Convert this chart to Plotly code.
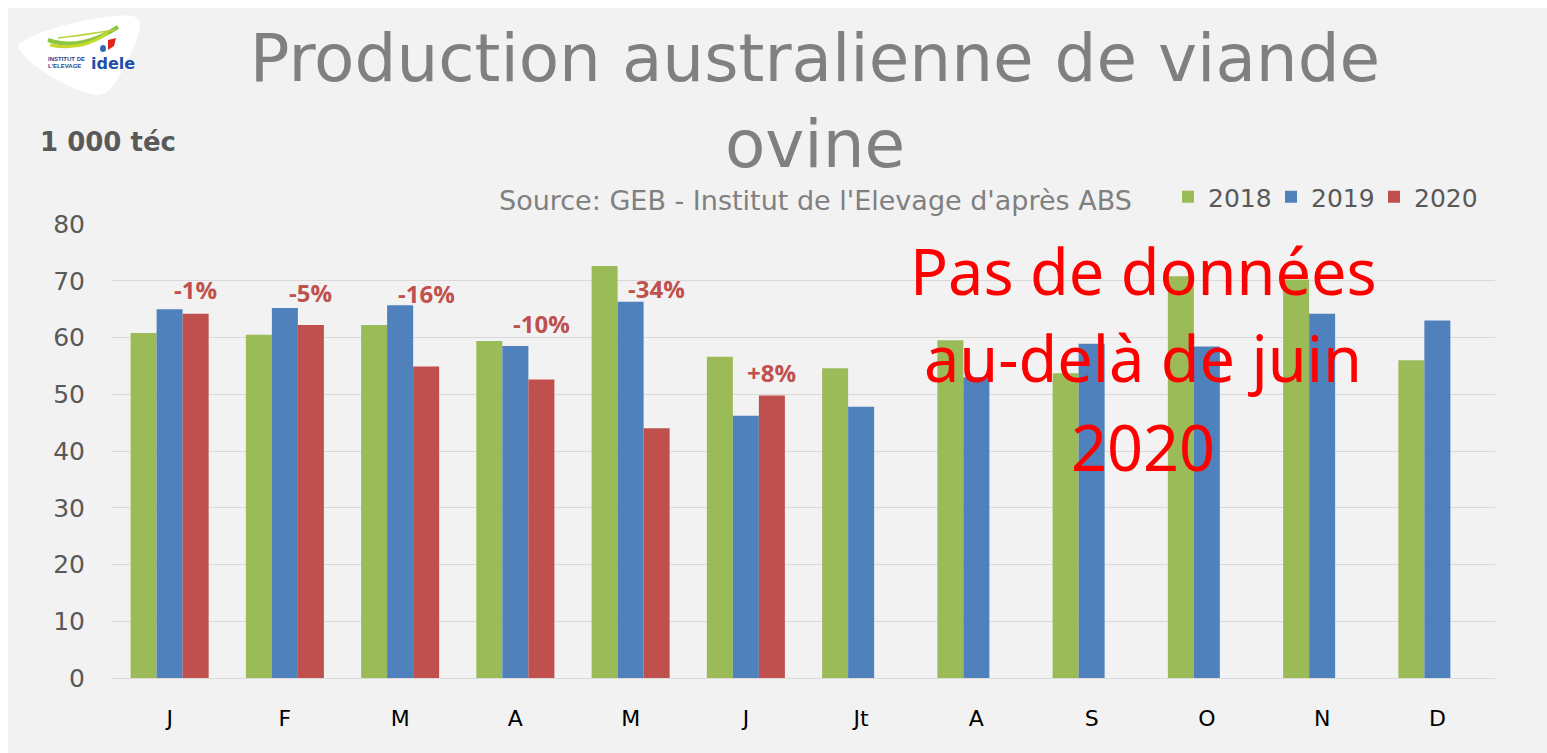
import plotly.graph_objects as go

# ---------------- data ----------------
months = ["J", "F", "M", "A", "M", "J", "Jt", "A", "S", "O", "N", "D"]
prod_2018 = [60.8, 60.5, 62.2, 59.4, 72.6, 56.6, 54.6, 59.5, 53.7, 70.8, 70.2, 56.0]
prod_2019 = [65.0, 65.2, 65.7, 58.5, 66.3, 46.2, 47.8, 53.0, 58.9, 58.4, 64.2, 63.0]
prod_2020 = [64.2, 62.2, 54.9, 52.6, 44.0, 49.8, None, None, None, None, None, None]
change_labels = ["-1%", "-5%", "-16%", "-10%", "-34%", "+8%"]
change_label_y = [68.5, 68.0, 67.7, 62.4, 68.7, 53.9]
y_ticks = [0, 10, 20, 30, 40, 50, 60, 70, 80]

# ---------------- layout geometry ----------------
W, H = 1547, 753
ML, MR, MT, MB = 112, 52, 224, 75
PW, PH = W - ML - MR, H - MT - MB
BARGAP = 0.323

def px(x):
    return (x - ML) / PW

def py(y):
    return (H - MB - y) / PH

GREEN, BLUE, RED = "#9bbb59", "#4f81bd", "#c0504d"
GREY_TXT = "#595959"
xpos = list(range(len(months)))

fig = go.Figure()
for name, vals, col in [("2018", prod_2018, GREEN), ("2019", prod_2019, BLUE), ("2020", prod_2020, RED)]:
    fig.add_trace(go.Bar(x=xpos, y=vals, name=name, marker=dict(color=col, line=dict(width=0))))

red_offset = (1 - BARGAP) / 3
annotations = []
for i, (lab, ly) in enumerate(zip(change_labels, change_label_y)):
    annotations.append(dict(x=i + red_offset, y=ly, xref="x", yref="y", text=lab, showarrow=False,
                            font=dict(family="Open Sans, Noto Sans, sans-serif", size=24, color=RED, weight="bold"),
                            xanchor="center", yanchor="middle"))

# big red note
for txt, yc in [("Pas de données", 270), ("au-delà de juin", 357), ("2020", 446)]:
    annotations.append(dict(x=px(1143), y=py(yc), xref="paper", yref="paper", text=txt, showarrow=False,
                            font=dict(family="Noto Sans, sans-serif", size=63, color="#ff0000"),
                            xanchor="center", yanchor="middle"))

# unit label
annotations.append(dict(x=px(38), y=py(142), xref="paper", yref="paper", text="1 000 téc", showarrow=False,
                        font=dict(family="DejaVu Sans, sans-serif", size=26, color=GREY_TXT, weight="bold"),
                        xanchor="left", yanchor="middle"))
# subtitle
annotations.append(dict(x=px(815), y=py(201), xref="paper", yref="paper",
                        text="Source: GEB - Institut de l'Elevage d'après ABS", showarrow=False,
                        font=dict(family="DejaVu Sans, sans-serif", size=27, color="#808080"),
                        xanchor="center", yanchor="middle"))

# logo texts
LOGO_FONT = "Liberation Sans Narrow, Liberation Sans, sans-serif"
annotations.append(dict(x=px(46), y=py(59), xref="paper", yref="paper", text="INSTITUT DE", showarrow=False,
                        font=dict(family=LOGO_FONT, size=6, color="#1f3f8f", weight="bold"),
                        xanchor="left", yanchor="middle"))
annotations.append(dict(x=px(46), y=py(66), xref="paper", yref="paper", text="L'ELEVAGE", showarrow=False,
                        font=dict(family=LOGO_FONT, size=6, color="#1f3f8f", weight="bold"),
                        xanchor="left", yanchor="middle"))
annotations.append(dict(x=px(89), y=py(64), xref="paper", yref="paper", text="idele", showarrow=False,
                        font=dict(family="DejaVu Sans, sans-serif", size=16, color="#1f4fa8", weight="bold"),
                        xanchor="left", yanchor="middle"))

def pth(points, close=True):
    s = "M " + " L ".join(f"{px(a):.5f},{py(b):.5f}" for a, b in points)
    return s + (" Z" if close else "")

def curve(p0, c1, c2, p1):
    return (f"M {px(p0[0]):.5f},{py(p0[1]):.5f} C {px(c1[0]):.5f},{py(c1[1]):.5f} "
            f"{px(c2[0]):.5f},{py(c2[1]):.5f} {px(p1[0]):.5f},{py(p1[1]):.5f}")

blob = (f"M {px(18):.5f},{py(46):.5f} "
        f"C {px(30):.5f},{py(30):.5f} {px(110):.5f},{py(12):.5f} {px(132):.5f},{py(16):.5f} "
        f"C {px(145):.5f},{py(18):.5f} {px(140):.5f},{py(35):.5f} {px(130):.5f},{py(55):.5f} "
        f"C {px(118):.5f},{py(80):.5f} {px(110):.5f},{py(96):.5f} {px(95):.5f},{py(95):.5f} "
        f"C {px(70):.5f},{py(90):.5f} {px(25):.5f},{py(65):.5f} {px(18):.5f},{py(46):.5f} Z")

shapes = [
    # white strips at top and left
    dict(type="rect", xref="paper", yref="paper", x0=px(0), x1=px(W), y0=py(8), y1=py(0),
         fillcolor="white", line=dict(width=0), layer="below"),
    dict(type="rect", xref="paper", yref="paper", x0=px(0), x1=px(8), y0=py(H), y1=py(0),
         fillcolor="white", line=dict(width=0), layer="below"),
    dict(type="path", xref="paper", yref="paper", path=blob, fillcolor="white", line=dict(width=0), layer="below"),
    dict(type="path", xref="paper", yref="paper", path=curve((48, 40), (70, 48), (95, 42), (118, 27)),
         line=dict(color="#8cc63f", width=4)),
    dict(type="path", xref="paper", yref="paper", path=curve((50, 45), (72, 50), (92, 44), (108, 33)),
         line=dict(color="#c5d92d", width=3)),
    dict(type="path", xref="paper", yref="paper", path=curve((58, 38), (80, 36), (100, 32), (115, 30)),
         line=dict(color="#b6d433", width=1.5)),
    dict(type="path", xref="paper", yref="paper", path=pth([(108, 40), (116, 38), (114, 46), (108, 50)]),
         fillcolor="#e2231a", line=dict(width=0)),
    dict(type="circle", xref="paper", yref="paper", x0=px(100), x1=px(106), y0=py(52), y1=py(45),
         fillcolor="#2d6db5", line=dict(width=0)),
]

fig.update_layout(
    width=W, height=H,
    margin=dict(l=ML, r=MR, t=MT, b=MB, autoexpand=False),
    paper_bgcolor="#f2f2f2", plot_bgcolor="#f2f2f2",
    barmode="group", bargap=BARGAP, bargroupgap=0,
    title=dict(text="Production australienne de viande<br>ovine", x=px(815), xref="paper", xanchor="center",
               y=1 - 81 / H, yanchor="middle",
               font=dict(family="DejaVu Sans, sans-serif", size=66, color="#808080")),
    legend=dict(orientation="h", x=px(1168), y=py(197), xanchor="left", yanchor="middle",
                font=dict(family="DejaVu Sans, sans-serif", size=25, color=GREY_TXT),
                bgcolor="rgba(0,0,0,0)", itemwidth=30, traceorder="normal",
                entrywidth=58, entrywidthmode="pixels"),
    xaxis=dict(range=[-0.5, len(months) - 0.5], tickvals=xpos, ticktext=months, showgrid=False,
               showline=True, linecolor="#d9d9d9", linewidth=1, ticks="", zeroline=False,
               tickfont=dict(family="DejaVu Sans, sans-serif", size=22, color="#000000"),
               ticklabelstandoff=21, fixedrange=True),
    yaxis=dict(range=[0, 80], tickvals=y_ticks, showgrid=True, gridcolor="#d9d9d9", gridwidth=1,
               zeroline=False, showline=False, ticks="",
               tickfont=dict(family="DejaVu Sans, sans-serif", size=25, color=GREY_TXT),
               ticklabelstandoff=26, fixedrange=True),
    annotations=annotations,
    shapes=shapes,
    showlegend=True,
)

fig.write_html("out.html", config={"displayModeBar": False},
               post_script="document.body.style.margin='0';document.body.style.overflow='hidden';")
